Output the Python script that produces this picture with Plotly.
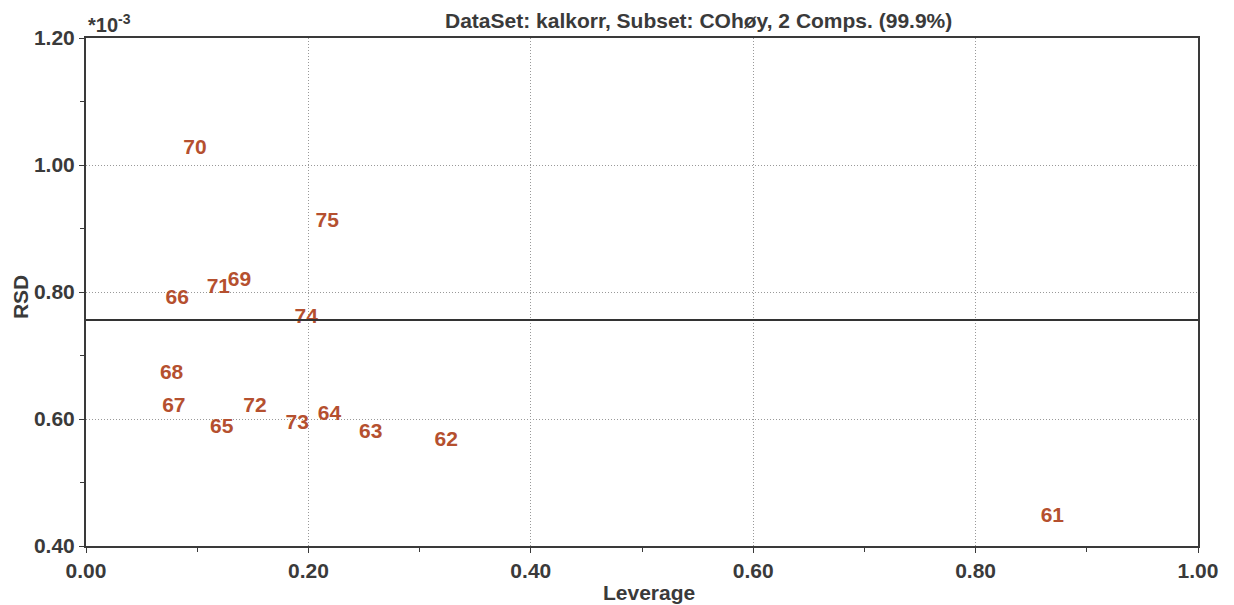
import plotly.graph_objects as go

labels = ["61", "62", "63", "64", "65", "66", "67", "68", "69", "70", "71", "72", "73", "74", "75"]
leverage = [0.869, 0.324, 0.256, 0.219, 0.122, 0.082, 0.079, 0.077, 0.138, 0.098, 0.119, 0.152, 0.190, 0.198, 0.217]
rsd = [0.446, 0.565, 0.579, 0.606, 0.587, 0.789, 0.619, 0.672, 0.817, 1.025, 0.806, 0.620, 0.592, 0.759, 0.910]
rsd_limit = 0.756
x_ticks = [0.0, 0.2, 0.4, 0.6, 0.8, 1.0]
y_ticks = [0.4, 0.6, 0.8, 1.0, 1.2]

FONT = "Liberation Sans, Arial, sans-serif"
TXT = "#B5502F"
AX = "#3a3a3a"

fig = go.Figure()
fig.add_trace(go.Scatter(
    x=leverage, y=rsd, mode="text", text=labels,
    textposition="middle center",
    textfont=dict(family=FONT, size=21, color=TXT, weight="bold"),
    hoverinfo="skip", showlegend=False))

fig.add_shape(type="line", xref="paper", x0=0, x1=1, yref="y", y0=rsd_limit, y1=rsd_limit,
              line=dict(color="#333333", width=2))

axis_common = dict(
    showline=True, linecolor=AX, linewidth=2, mirror=True,
    ticks="outside", ticklen=5, tickcolor=AX, tickwidth=1,
    showgrid=True, gridcolor="#999999", griddash="1px,2px", gridwidth=1,
    zeroline=False,
    tickfont=dict(family=FONT, size=21, color=AX, weight="bold"),
    minor=dict(ticks="outside", ticklen=4, tickcolor=AX, showgrid=False),
)

fig.update_xaxes(range=[0, 1], tickvals=x_ticks, ticktext=[f"{v:.2f}" for v in x_ticks],
                 minor_dtick=0.1, **axis_common)
fig.update_yaxes(range=[0.4, 1.2], tickvals=y_ticks, ticktext=[f"{v:.2f}" for v in y_ticks],
                 minor_dtick=0.1, **axis_common)

fig.add_annotation(text="DataSet: kalkorr, Subset: COhøy, 2 Comps. (99.9%)", xref="paper", yref="paper",
                   x=0.551, y=1.0, yshift=4, xanchor="center", yanchor="bottom", showarrow=False,
                   font=dict(family=FONT, size=21, color=AX, weight="bold"))
fig.add_annotation(text="*10<sup>-3</sup>", xref="paper", yref="paper",
                   x=0.0, y=1.0, yshift=0, xanchor="left", yanchor="bottom", showarrow=False,
                   font=dict(family=FONT, size=20, color=AX, weight="bold"))
fig.add_annotation(text="Leverage", xref="paper", yref="paper",
                   x=0.506, y=0, yshift=-33, xanchor="center", yanchor="top", showarrow=False,
                   font=dict(family=FONT, size=21, color=AX, weight="bold"))
fig.add_annotation(text="RSD", xref="paper", yref="paper", textangle=-90,
                   x=0, xshift=-66, y=0.49, xanchor="center", yanchor="middle", showarrow=False,
                   font=dict(family=FONT, size=21, color=AX, weight="bold"))

fig.update_layout(
    width=1234, height=605,
    margin=dict(l=86, r=36, t=38, b=59),
    paper_bgcolor="white", plot_bgcolor="white",
    showlegend=False,
)
fig.write_html("out.html")
